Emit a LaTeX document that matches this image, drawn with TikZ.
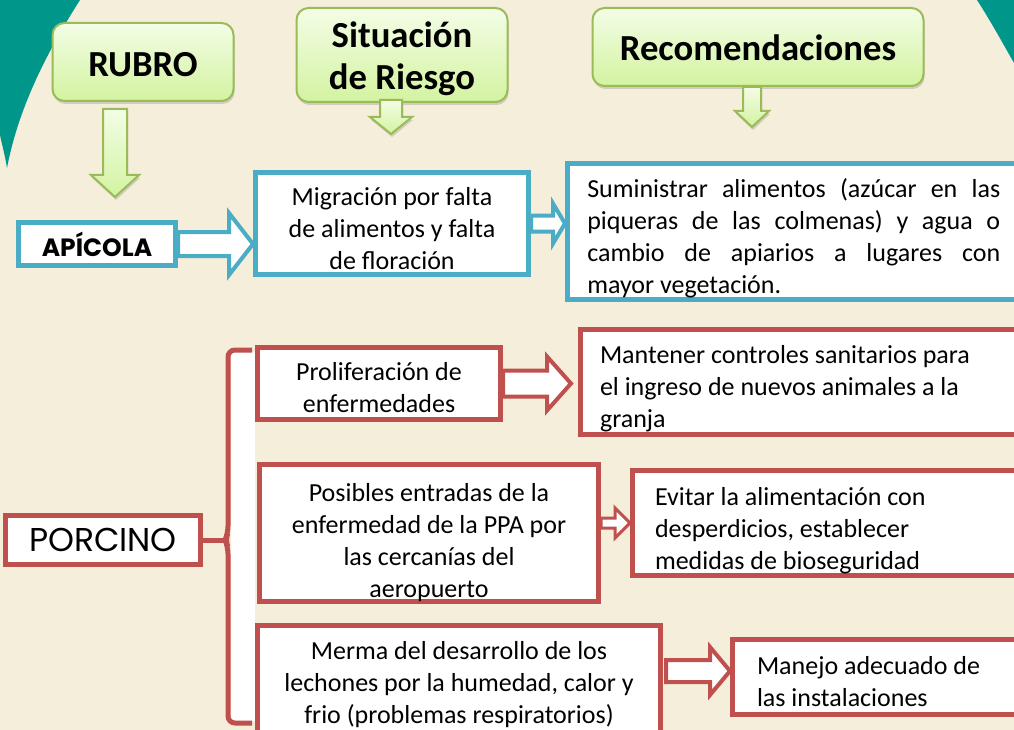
\documentclass[tikz,border=0pt]{standalone}
\usepackage{fontspec}
\setmainfont{Carlito}
\newfontfamily\gothic{Poppins}
\usetikzlibrary{calc,shadows}

\definecolor{cream}{HTML}{F5EEDA}
\definecolor{tealbg}{HTML}{00968A}
\definecolor{leaf}{HTML}{9BBB59}
\definecolor{leaftop}{HTML}{F3FDE6}
\definecolor{leafbot}{HTML}{D3F3A0}
\definecolor{sky}{HTML}{4BACC6}
\definecolor{brick}{HTML}{C0504D}

% block arrows: style, tail, tip, shaft half width, head half width, head length
\newcommand{\hblock}[6]{%
  \draw[#1] ($(#2)+(0,#4)$) -- ($(#2 -| #3)+(-#6,#4)$) -- ($(#2 -| #3)+(-#6,#5)$)
    -- (#2 -| #3) -- ($(#2 -| #3)+(-#6,-#5)$) -- ($(#2 -| #3)+(-#6,-#4)$)
    -- ($(#2)+(0,-#4)$) -- cycle;}
\newcommand{\vblock}[6]{%
  \draw[#1] ($(#2)+(-#4,0)$) -- ($(#2 |- #3)+(-#4,-#6)$) -- ($(#2 |- #3)+(-#5,-#6)$)
    -- (#2 |- #3) -- ($(#2 |- #3)+(#5,-#6)$) -- ($(#2 |- #3)+(#4,-#6)$)
    -- ($(#2)+(#4,0)$) -- cycle;}
% taller first line, pushes the text down in its box
\newcommand{\topgap}[1]{\rule{0pt}{#1pt}}

\begin{document}
\begin{tikzpicture}[x=1pt,y=-1pt,
  font=\fontsize{26}{32}\selectfont,
  titlebox/.style={draw=leaf, line width=2pt, rounded corners=12pt,
    top color=leaftop, bottom color=leafbot, align=center,
    drop shadow={opacity=0.3, shadow xshift=1pt, shadow yshift=-3pt},
    font=\fontsize{36.7}{42}\selectfont\bfseries},
  greenarrow/.style={draw=leaf, line width=2pt, top color=leaftop, bottom color=leafbot,
    drop shadow={opacity=0.3, shadow xshift=1pt, shadow yshift=-3pt}},
  bluebox/.style={draw=sky, line width=5pt, fill=white, inner sep=0pt},
  redbox/.style={draw=brick, line width=5pt, fill=white, inner sep=0pt},
  bluearrow/.style={draw=sky, line width=4pt, fill=white},
  redarrow/.style={draw=brick, line width=4pt, fill=white}]

\clip (0,0) rectangle (1014,730);
\fill[cream] (0,0) rectangle (1014,730);
\fill[tealbg] (0,0) -- (80,0) .. controls (45,55) and (18,110) .. (7,168)
  .. controls (5,155) and (2,145) .. (0,135) -- cycle;
\fill[tealbg] (977,0) .. controls (990,20) and (1002,42) .. (1014,63) -- (1014,0) -- cycle;

% headers
\node[titlebox, minimum width=181, minimum height=78] (rubro) at (143,62) {\topgap{30}RUBRO};
\node[titlebox, minimum width=211, minimum height=94] (sit) at (402,55) {\topgap{34}Situación\\de Riesgo};
\node[titlebox, minimum width=331, minimum height=78] (rec) at (758,47) {\topgap{28}Recomendaciones};

\coordinate (g1a) at (115,109);
\coordinate (g1b) at (115,197);
\coordinate (g2a) at (391,100);
\coordinate (g2b) at (391,134);
\coordinate (g3a) at (752,87);
\coordinate (g3b) at (752,127);
\vblock{greenarrow}{g1a}{g1b}{12}{24}{22}
\vblock{greenarrow}{g2a}{g2b}{11}{21}{17}
\vblock{greenarrow}{g3a}{g3b}{9}{17}{16}

% apicola
\node[bluebox, minimum width=157, minimum height=43,
  font=\gothic\bfseries\fontsize{25}{28}\selectfont] (api) at (97,244) {APÍCOLA};
\node[bluebox, minimum width=273, minimum height=102, align=center] (mig) at (392,223.5)
  {\topgap{28.5}Migración por falta\\de alimentos y falta\\de floración};
\node[bluebox, minimum width=452.5, minimum height=136, text width=413, align=justify] (sum) at (793.75,231.5)
  {\topgap{32.5}Suministrar alimentos (azúcar en las\linebreak piqueras de las colmenas) y agua o\linebreak
   cambio de apiarios a lugares con\linebreak mayor vegetación.};
\hblock{bluearrow}{api.east}{mig.west}{12}{31}{24}
\hblock{bluearrow}{mig.east}{sum.west}{8}{20}{12}

% porcino
\fill[white] (231,352) rectangle (255,721);
\draw[brick, line width=5pt, rounded corners=7pt] (252,350) -- (228,350) -- (228,533)
  -- (225,540) -- (228,547) -- (228,723) -- (252,723);
\coordinate (tip) at (225,540);
\node[redbox, minimum width=195, minimum height=49,
  font=\gothic\fontsize{33}{36}\selectfont] (porc) at (103,540) {PORCINO};
\draw[brick, line width=5pt] (porc.east) -- (tip);

\node[redbox, minimum width=243, minimum height=72, align=center] (prol) at (379,383.5)
  {\topgap{26.5}Proliferación de\\enfermedades};
\node[redbox, minimum width=449.5, minimum height=105, text width=410.5, align=flush left] (mant) at (805.25,382)
  {\topgap{30.5}Mantener controles sanitarios para\\el ingreso de nuevos animales a la\\granja};
\node[redbox, minimum width=339, minimum height=135, align=center] (pos) at (429,533)
  {\topgap{36.5}Posibles entradas de la\\enfermedad de la PPA por\\las cercanías del\\aeropuerto};
\node[redbox, minimum width=397.5, minimum height=105, text width=352.5, align=flush left] (evi) at (831.25,523)
  {\topgap{32.5}Evitar la alimentación con\\desperdicios, establecer\\medidas de bioseguridad};
\node[redbox, minimum width=403, minimum height=120, align=center] (mer) at (459,685)
  {Merma del desarrollo de los\\lechones por la humedad, calor y\\frio (problemas respiratorios)};
\node[redbox, minimum width=307.5, minimum height=75, text width=258.5, align=flush left] (man) at (886.25,677)
  {\topgap{26.5}Manejo adecuado de\\las instalaciones};

\coordinate (m1) at ([xshift=-7pt]mant.west);
\coordinate (p2) at ([yshift=10pt]pos.east);
\coordinate (m3) at ([xshift=3pt,yshift=14pt]mer.east);
\hblock{redarrow}{prol.east}{m1}{13}{27}{24}
\hblock{redarrow, line width=3pt}{p2}{evi.west}{5}{15}{15}
\hblock{redarrow}{m3}{man.west}{11}{24}{20}
\end{tikzpicture}
\end{document}
